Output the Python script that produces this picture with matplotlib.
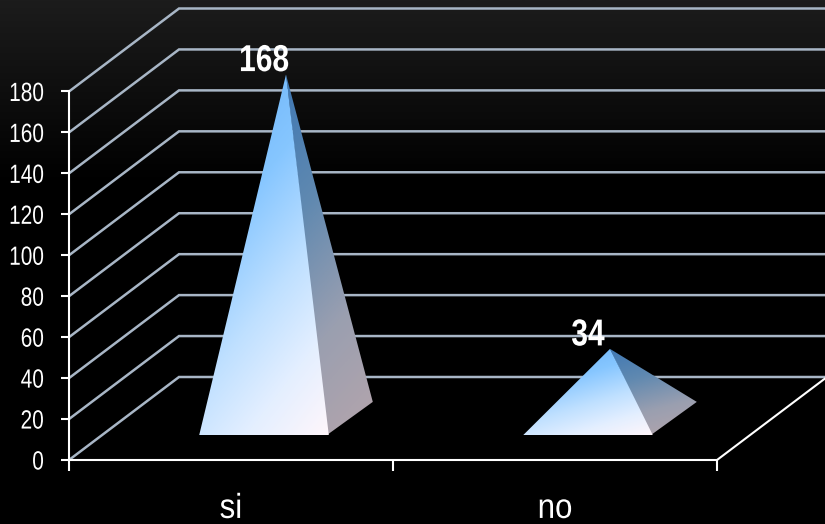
import matplotlib
matplotlib.use("Agg")
from matplotlib import pyplot as plt
from matplotlib.colors import LinearSegmentedColormap
from matplotlib.patches import Polygon
from matplotlib.patheffects import AbstractPathEffect
from matplotlib.transforms import Affine2D
import numpy as np

categories = ["si", "no"]
values = [168, 34]
y_ticks = [0, 20, 40, 60, 80, 100, 120, 140, 160, 180]

plt.rcParams["font.family"] = ["Liberation Sans", "DejaVu Sans"]

W, H = 825, 524
# plot box in pixels
LEFT, RIGHT, BOTTOM, TOP = 69, 717, 460, 91.5
PX_X = (RIGHT - LEFT) / 2.0
PX_Y = (BOTTOM - TOP) / 180.0
# depth of the 3d floor, in data units
DEPTH_X = 110 / PX_X
DEPTH_Y = 83 / PX_Y
BAR_WIDTH = 0.4


class Narrow(AbstractPathEffect):
    # squeeze text sideways, the original font is a condensed one
    def __init__(self, sx, anchor="center"):
        super().__init__()
        self.sx = sx
        self.anchor = anchor

    def draw_path(self, renderer, gc, tpath, affine, rgbFace=None):
        box = tpath.transformed(affine).get_extents()
        x = box.x1 if self.anchor == "right" else (box.x0 + box.x1) / 2
        squeeze = Affine2D().translate(-x, 0).scale(self.sx, 1).translate(x, 0)
        renderer.draw_path(gc, tpath, affine + squeeze, rgbFace)


def project(cat, val, z):
    # z=0 is the front of the floor, z=1 the back wall
    return cat + z * DEPTH_X, val + z * DEPTH_Y


def gradient_fill(ax, corners, cmap, angle, zorder=3):
    # fill a polygon with a linear gradient, angle in degrees from vertical
    xs = [c[0] for c in corners]
    ys = [c[1] for c in corners]
    u, v = np.meshgrid(np.linspace(0, 1, 200), np.linspace(0, 1, 200))
    t = np.cos(np.radians(angle)) * v + np.sin(np.radians(angle)) * u
    t = (t - t.min()) / (t.max() - t.min())
    im = ax.imshow(t, extent=[min(xs), max(xs), min(ys), max(ys)], cmap=cmap,
                   vmin=0, vmax=1, aspect="auto", origin="upper", zorder=zorder,
                   interpolation="bilinear")
    poly = Polygon(corners, closed=True, transform=ax.transData, facecolor="none", edgecolor="none")
    ax.add_patch(poly)
    im.set_clip_path(poly)


front_cmap = LinearSegmentedColormap.from_list(
    "front", [(0, "#64aef7"), (0.35, "#86c6ff"), (0.6, "#bfe0ff"), (0.8, "#e4efff"), (1, "#fff6fb")])
side_cmap = LinearSegmentedColormap.from_list(
    "side", ["#3f78b4", "#6089b0", "#9a9fb0", "#b5a5ac"])
bg_cmap = LinearSegmentedColormap.from_list(
    "bg", [(0, "#1c1c1c"), (0.35, "#000000"), (1, "#000000")])

fig = plt.figure(figsize=(W / 100, H / 100), dpi=100, facecolor="black")

# background fades from dark grey at the top to black
bg = fig.add_axes([0, 0, 1, 1], zorder=-1)
bg.imshow(np.linspace(0, 1, 256).reshape(-1, 1), cmap=bg_cmap, aspect="auto")
bg.axis("off")

ax = fig.add_axes([LEFT / W, 1 - BOTTOM / H, (RIGHT - LEFT) / W, (BOTTOM - TOP) / H])
ax.patch.set_alpha(0)

# images get cut at their axes, so the pyramids sit on a full size overlay
# with the same data scale as the chart
over = fig.add_axes([0, 0, 1, 1], zorder=2)
over.patch.set_alpha(0)
over.axis("off")
over_xlim = (-LEFT / PX_X, (W - LEFT) / PX_X)
over_ylim = ((BOTTOM - H) / PX_Y, BOTTOM / PX_Y)

# gridlines on the side wall and the back wall
for t in y_ticks:
    x0, y0 = project(0, t, 0)
    x1, y1 = project(0, t, 1)
    x2, y2 = project(len(categories), t, 1)
    ax.plot([x0, x1, x2], [y0, y1, y2], color="#a8b6c6", lw=1.8, clip_on=False,
            solid_joinstyle="miter", zorder=1)

# right edge of the floor
x0, y0 = project(len(categories), 0, 0)
x1, y1 = project(len(categories), 0, 1)
ax.plot([x0, x1], [y0, y1], color="white", lw=1.5, clip_on=False, zorder=2)

# pyramids
for i, val in enumerate(values):
    c = i + 0.5
    fl = project(c - BAR_WIDTH / 2, 0, 0.3)
    fr = project(c + BAR_WIDTH / 2, 0, 0.3)
    br = project(c + BAR_WIDTH / 2, 0, 0.7)
    apex = project(c, val, 0.5)
    # side goes a little under the front face, or a dark seam shows between them
    gradient_fill(over, [(fr[0] - 0.006, fr[1]), br, apex], side_cmap, 15, zorder=3)
    gradient_fill(over, [fl, fr, apex], front_cmap, 25, zorder=4)
    label_x = project(c, 0, 0.3)[0]
    over.annotate(str(val), (label_x, apex[1]), xytext=(0, 2.5), textcoords="offset points",
                  ha="center", va="baseline", color="white", fontsize=27, fontweight="bold",
                  zorder=5, annotation_clip=False, path_effects=[Narrow(0.8)])

over.set_xlim(*over_xlim)
over.set_ylim(*over_ylim)

ax.set_xlim(0, len(categories))
ax.set_ylim(0, 180)
for name in ["top", "right"]:
    ax.spines[name].set_visible(False)
for name in ["left", "bottom"]:
    ax.spines[name].set_color("white")
    ax.spines[name].set_linewidth(1.5)
    ax.spines[name].set_zorder(4)

ax.set_yticks(y_ticks)
ax.set_yticklabels([str(t) for t in y_ticks])
ax.tick_params(axis="y", colors="white", labelsize=19, length=6, width=1.5, pad=12)
ax.set_xticks(range(len(categories) + 1))
ax.set_xticklabels([])
ax.tick_params(axis="x", which="major", colors="white", length=8, width=1.5)
ax.set_xticks([i + 0.5 for i in range(len(categories))], minor=True)
ax.set_xticklabels(categories, minor=True)
ax.tick_params(axis="x", which="minor", colors="white", labelsize=25, length=0, pad=23)

for label in ax.get_yticklabels():
    label.set_path_effects([Narrow(0.79, "right")])
for label in ax.get_xticklabels(minor=True):
    label.set_path_effects([Narrow(0.9)])

fig.savefig("out.png", dpi=100, facecolor=fig.get_facecolor())
